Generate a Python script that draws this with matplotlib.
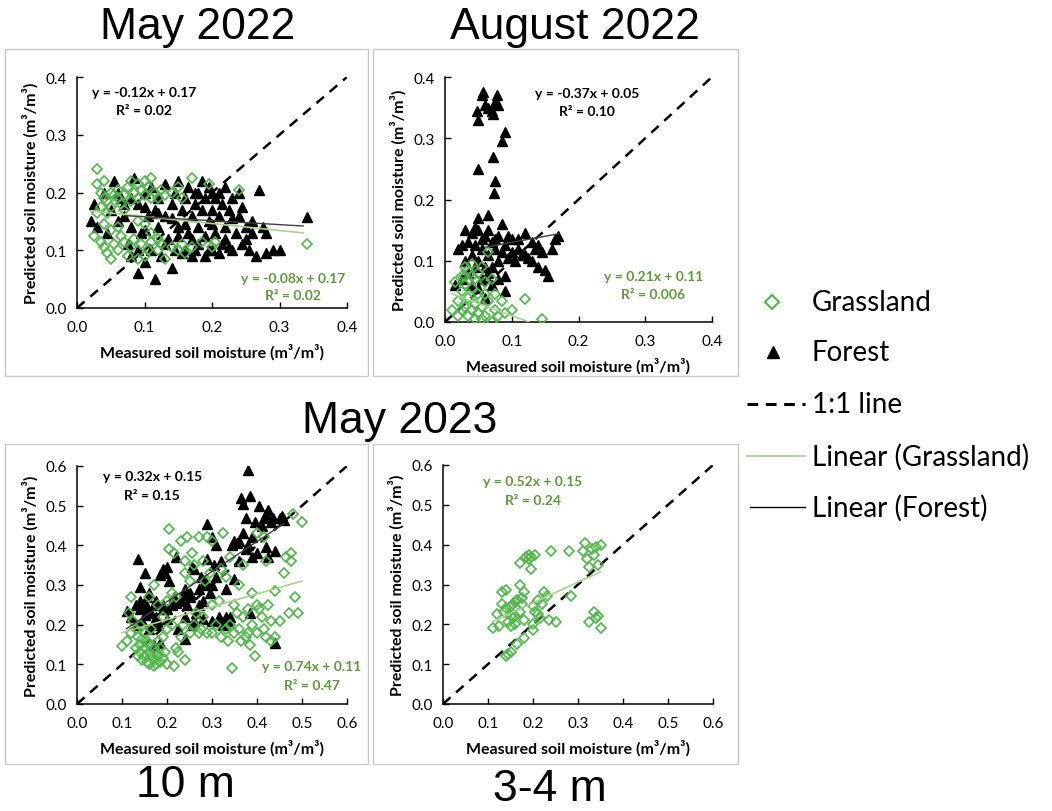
import matplotlib.pyplot as plt
from matplotlib.lines import Line2D
from matplotlib.patches import Rectangle

# ---- data ----
# May 2022 (10 m)
may22_grass_x = [0.03, 0.03, 0.035, 0.04, 0.04, 0.045, 0.05, 0.05, 0.055, 0.06, 0.06, 0.065, 0.07, 0.075, 0.08,
                 0.08, 0.085, 0.09, 0.09, 0.095, 0.10, 0.10, 0.105, 0.11, 0.11, 0.115, 0.12, 0.125, 0.13, 0.14,
                 0.035, 0.045, 0.03, 0.07, 0.17, 0.15, 0.195, 0.24, 0.155,
                 0.04, 0.05, 0.06, 0.10, 0.11, 0.025, 0.09,
                 0.035, 0.04, 0.045, 0.05, 0.055, 0.06, 0.07, 0.075, 0.08, 0.085, 0.09, 0.095, 0.10, 0.105,
                 0.11, 0.12, 0.125, 0.13, 0.14, 0.15, 0.155, 0.16, 0.17, 0.185, 0.20, 0.205, 0.34, 0.12, 0.065]
may22_grass_y = [0.24, 0.215, 0.20, 0.19, 0.22, 0.185, 0.20, 0.175, 0.195, 0.19, 0.205, 0.18, 0.195, 0.21, 0.22,
                 0.185, 0.20, 0.215, 0.19, 0.205, 0.195, 0.22, 0.21, 0.225, 0.19, 0.20, 0.19, 0.205, 0.195, 0.20,
                 0.175, 0.165, 0.165, 0.17, 0.225, 0.21, 0.215, 0.205, 0.19,
                 0.145, 0.135, 0.14, 0.145, 0.13, 0.125, 0.15,
                 0.115, 0.105, 0.095, 0.085, 0.11, 0.10, 0.115, 0.09, 0.105, 0.12, 0.085, 0.11, 0.09, 0.10,
                 0.115, 0.10, 0.11, 0.085, 0.105, 0.10, 0.11, 0.095, 0.105, 0.115, 0.105, 0.115, 0.11, 0.12, 0.125]
may22_forest_x = [0.02, 0.025, 0.03, 0.04, 0.045, 0.05, 0.055, 0.06, 0.065, 0.07, 0.075, 0.08, 0.08, 0.085,
                  0.09, 0.09, 0.095, 0.10, 0.10, 0.105, 0.11, 0.11, 0.115, 0.115, 0.12, 0.12, 0.125, 0.13, 0.13,
                  0.135, 0.14, 0.14, 0.145, 0.145, 0.15, 0.15, 0.155, 0.16, 0.16, 0.165, 0.165, 0.17, 0.17,
                  0.175, 0.175, 0.18, 0.18, 0.185, 0.185, 0.19, 0.19, 0.195, 0.195, 0.20, 0.20, 0.205, 0.205,
                  0.21, 0.21, 0.215, 0.215, 0.22, 0.22, 0.225, 0.23, 0.23, 0.235, 0.24, 0.24, 0.245, 0.25,
                  0.255, 0.26, 0.265, 0.27, 0.275, 0.28, 0.29, 0.30, 0.34, 0.16, 0.17, 0.19, 0.20, 0.21, 0.22,
                  0.13, 0.15, 0.12, 0.14, 0.10, 0.09, 0.18, 0.225, 0.245, 0.26, 0.23, 0.08, 0.06, 0.07, 0.10,
                  0.155, 0.175, 0.195, 0.20, 0.25, 0.28]
may22_forest_y = [0.15, 0.18, 0.14, 0.20, 0.13, 0.17, 0.22, 0.15, 0.19, 0.16, 0.11, 0.09, 0.14, 0.225,
                  0.06, 0.18, 0.13, 0.08, 0.20, 0.16, 0.10, 0.21, 0.05, 0.17, 0.14, 0.19, 0.09, 0.16, 0.215,
                  0.12, 0.07, 0.18, 0.10, 0.20, 0.14, 0.22, 0.17, 0.10, 0.19, 0.13, 0.21, 0.09, 0.16,
                  0.18, 0.20, 0.11, 0.14, 0.17, 0.22, 0.09, 0.19, 0.15, 0.21, 0.10, 0.17, 0.13, 0.19,
                  0.16, 0.20, 0.11, 0.18, 0.14, 0.21, 0.17, 0.10, 0.19, 0.13, 0.16, 0.20, 0.11, 0.14,
                  0.10, 0.13, 0.09, 0.205, 0.14, 0.095, 0.10, 0.10, 0.157, 0.145, 0.12, 0.125, 0.145, 0.095, 0.12,
                  0.11, 0.125, 0.165, 0.155, 0.175, 0.10, 0.20, 0.105, 0.175, 0.15, 0.155, 0.19, 0.20, 0.18, 0.135,
                  0.095, 0.10, 0.10, 0.20, 0.12, 0.13]

# August 2022 (10 m)
aug22_grass_x = [0.01, 0.015, 0.02, 0.02, 0.025, 0.025, 0.03, 0.03, 0.03, 0.035, 0.035, 0.035, 0.04, 0.04,
                 0.04, 0.045, 0.045, 0.045, 0.05, 0.05, 0.05, 0.055, 0.055, 0.06, 0.06, 0.065, 0.065, 0.07,
                 0.07, 0.075, 0.08, 0.085, 0.09, 0.10, 0.12, 0.145, 0.03, 0.025, 0.055, 0.06, 0.04, 0.075]
aug22_grass_y = [0.02, 0.065, 0.035, 0.01, 0.075, 0.05, 0.09, 0.025, 0.06, 0.085, 0.04, 0.01, 0.095, 0.055,
                 0.02, 0.07, 0.03, 0.005, 0.08, 0.045, 0.015, 0.09, 0.025, 0.065, 0.01, 0.115, 0.035, 0.07,
                 0.0, 0.02, 0.01, 0.035, 0.015, 0.02, 0.037, 0.005, 0.075, 0.02, 0.005, 0.045, 0.075, 0.045]
aug22_forest_x = [0.048, 0.05, 0.055, 0.057, 0.06, 0.065, 0.07, 0.072, 0.075, 0.078, 0.08, 0.085, 0.09, 0.072,
                  0.05, 0.075, 0.073, 0.065, 0.05,
                  0.015, 0.02, 0.025, 0.03, 0.035, 0.04, 0.04, 0.045, 0.045, 0.05, 0.05, 0.055, 0.055, 0.06,
                  0.06, 0.065, 0.065, 0.07, 0.07, 0.075, 0.08, 0.08, 0.085, 0.085, 0.09, 0.09, 0.09, 0.095,
                  0.10, 0.10, 0.105, 0.11, 0.115, 0.12, 0.125, 0.13, 0.135, 0.14, 0.14, 0.145, 0.15, 0.155,
                  0.16, 0.165, 0.17, 0.035, 0.04, 0.05, 0.06, 0.03, 0.025, 0.045, 0.055, 0.07, 0.08, 0.065,
                  0.075, 0.095, 0.11, 0.12, 0.13]
aug22_forest_y = [0.345, 0.33, 0.37, 0.375, 0.355, 0.35, 0.345, 0.34, 0.36, 0.37, 0.355, 0.295, 0.31, 0.27,
                  0.25, 0.23, 0.21, 0.175, 0.17,
                  0.06, 0.12, 0.125, 0.15, 0.13, 0.11, 0.145, 0.09, 0.155, 0.10, 0.15, 0.12, 0.07, 0.14,
                  0.04, 0.11, 0.15, 0.09, 0.13, 0.12, 0.10, 0.14, 0.16, 0.115, 0.05, 0.075, 0.125, 0.105,
                  0.115, 0.135, 0.10, 0.12, 0.11, 0.145, 0.105, 0.10, 0.12, 0.09, 0.125, 0.115, 0.085, 0.075,
                  0.12, 0.135, 0.14, 0.08, 0.06, 0.055, 0.09, 0.10, 0.07, 0.125, 0.135, 0.06, 0.07, 0.08,
                  0.135, 0.14, 0.135, 0.11, 0.13]

# May 2023, 10 m
may23_grass_x = [0.10, 0.11, 0.115, 0.12, 0.12, 0.125, 0.13, 0.13, 0.135, 0.135, 0.14, 0.14, 0.14, 0.145,
                 0.145, 0.15, 0.15, 0.15, 0.155, 0.155, 0.16, 0.16, 0.16, 0.165, 0.165, 0.17, 0.17, 0.17,
                 0.175, 0.175, 0.18, 0.18, 0.185, 0.185, 0.19, 0.19, 0.195, 0.20, 0.20, 0.205, 0.205, 0.21,
                 0.215, 0.215, 0.22, 0.225, 0.23, 0.235, 0.24, 0.24, 0.245, 0.25, 0.255, 0.26, 0.265, 0.27,
                 0.275, 0.28, 0.285, 0.29, 0.29, 0.295, 0.30, 0.30, 0.31, 0.315, 0.32, 0.325, 0.33, 0.33,
                 0.335, 0.34, 0.345, 0.35, 0.355, 0.36, 0.365, 0.37, 0.375, 0.38, 0.385, 0.39, 0.39, 0.395,
                 0.40, 0.40, 0.405, 0.41, 0.415, 0.415, 0.42, 0.42, 0.425, 0.43, 0.44, 0.45, 0.46, 0.465,
                 0.47, 0.475, 0.475, 0.48, 0.485, 0.49, 0.50, 0.35, 0.37, 0.38, 0.30, 0.27, 0.26, 0.25, 0.23,
                 0.21, 0.19, 0.18, 0.17, 0.16, 0.20, 0.22, 0.24, 0.28, 0.32, 0.34, 0.36, 0.40, 0.44, 0.43]
may23_grass_y = [0.145, 0.16, 0.23, 0.18, 0.27, 0.21, 0.14, 0.19, 0.17, 0.12, 0.15, 0.13, 0.20, 0.165,
                 0.11, 0.14, 0.18, 0.12, 0.105, 0.16, 0.13, 0.10, 0.15, 0.12, 0.19, 0.095, 0.14, 0.11,
                 0.13, 0.10, 0.12, 0.16, 0.105, 0.14, 0.115, 0.17, 0.13, 0.10, 0.19, 0.39, 0.44, 0.28,
                 0.095, 0.38, 0.14, 0.13, 0.41, 0.20, 0.36, 0.11, 0.42, 0.31, 0.38, 0.35, 0.23, 0.42,
                 0.19, 0.36, 0.31, 0.18, 0.42, 0.33, 0.41, 0.25, 0.20, 0.26, 0.17, 0.43, 0.19, 0.32,
                 0.16, 0.20, 0.09, 0.18, 0.23, 0.30, 0.16, 0.35, 0.17, 0.18, 0.15, 0.28, 0.20, 0.12,
                 0.25, 0.18, 0.24, 0.22, 0.19, 0.42, 0.17, 0.36, 0.25, 0.16, 0.285, 0.21, 0.33, 0.37,
                 0.23, 0.38, 0.36, 0.48, 0.27, 0.23, 0.46, 0.25, 0.22, 0.24, 0.18, 0.18, 0.20, 0.18, 0.17,
                 0.20, 0.22, 0.25, 0.30, 0.27, 0.26, 0.27, 0.33, 0.22, 0.34, 0.37, 0.19, 0.43, 0.17, 0.21]
may23_forest_x = [0.11, 0.12, 0.13, 0.135, 0.14, 0.14, 0.145, 0.15, 0.15, 0.155, 0.16, 0.16, 0.165, 0.17,
                  0.17, 0.175, 0.18, 0.185, 0.185, 0.19, 0.19, 0.195, 0.20, 0.20, 0.205, 0.21, 0.215, 0.22,
                  0.225, 0.23, 0.235, 0.24, 0.24, 0.245, 0.25, 0.255, 0.26, 0.26, 0.265, 0.27, 0.275, 0.28,
                  0.28, 0.285, 0.29, 0.29, 0.295, 0.30, 0.30, 0.305, 0.31, 0.31, 0.315, 0.32, 0.325, 0.33,
                  0.335, 0.34, 0.345, 0.35, 0.355, 0.36, 0.36, 0.365, 0.37, 0.37, 0.375, 0.375, 0.38, 0.38,
                  0.385, 0.385, 0.39, 0.39, 0.395, 0.40, 0.405, 0.41, 0.415, 0.42, 0.42, 0.425, 0.425, 0.43,
                  0.435, 0.44, 0.44, 0.45, 0.455, 0.46, 0.13, 0.15, 0.175, 0.20, 0.22, 0.25, 0.27, 0.30,
                  0.33, 0.35, 0.28, 0.32, 0.19, 0.17, 0.155, 0.14, 0.24, 0.255]
may23_forest_y = [0.235, 0.22, 0.25, 0.365, 0.295, 0.24, 0.21, 0.33, 0.255, 0.27, 0.19, 0.28, 0.23, 0.25,
                  0.15, 0.22, 0.205, 0.155, 0.325, 0.34, 0.24, 0.33, 0.345, 0.215, 0.31, 0.25, 0.27, 0.37,
                  0.19, 0.26, 0.275, 0.165, 0.22, 0.25, 0.28, 0.345, 0.21, 0.34, 0.23, 0.29, 0.32, 0.26,
                  0.215, 0.31, 0.455, 0.365, 0.28, 0.42, 0.21, 0.35, 0.40, 0.32, 0.22, 0.36, 0.20, 0.29,
                  0.21, 0.22, 0.40, 0.315, 0.405, 0.41, 0.36, 0.52, 0.505, 0.43, 0.39, 0.47, 0.59, 0.40,
                  0.525, 0.23, 0.42, 0.37, 0.46, 0.38, 0.50, 0.45, 0.47, 0.395, 0.48, 0.49, 0.37, 0.46,
                  0.47, 0.155, 0.385, 0.47, 0.475, 0.465, 0.20, 0.225, 0.26, 0.24, 0.255, 0.27, 0.25, 0.30,
                  0.22, 0.41, 0.30, 0.21, 0.25, 0.20, 0.245, 0.26, 0.29, 0.20]

# May 2023, 3-4 m (grassland only)
may23_fine_x = [0.11, 0.12, 0.125, 0.13, 0.135, 0.14, 0.14, 0.14, 0.145, 0.145, 0.15, 0.15, 0.15, 0.155,
                0.155, 0.16, 0.16, 0.165, 0.165, 0.17, 0.17, 0.17, 0.175, 0.18, 0.18, 0.18, 0.185, 0.19,
                0.19, 0.195, 0.195, 0.20, 0.20, 0.205, 0.205, 0.21, 0.21, 0.215, 0.22, 0.225, 0.23, 0.235,
                0.24, 0.25, 0.28, 0.285, 0.31, 0.315, 0.32, 0.325, 0.325, 0.33, 0.335, 0.335, 0.34, 0.34,
                0.345, 0.345, 0.35, 0.35, 0.13, 0.16, 0.20, 0.175, 0.15]
may23_fine_y = [0.19, 0.225, 0.195, 0.28, 0.23, 0.285, 0.24, 0.12, 0.125, 0.205, 0.13, 0.245, 0.195, 0.215,
                0.25, 0.255, 0.22, 0.26, 0.15, 0.30, 0.355, 0.23, 0.265, 0.28, 0.21, 0.165, 0.37, 0.365,
                0.375, 0.37, 0.34, 0.245, 0.185, 0.375, 0.23, 0.26, 0.225, 0.215, 0.25, 0.28, 0.27, 0.21,
                0.385, 0.205, 0.385, 0.27, 0.385, 0.405, 0.365, 0.345, 0.205, 0.39, 0.375, 0.23, 0.395, 0.215,
                0.22, 0.35, 0.40, 0.19, 0.25, 0.20, 0.20, 0.25, 0.22]

# trend lines as drawn (x0, y0, x1, y1)
trend_grass = [(0.02, 0.168, 0.335, 0.130), (0.01, 0.046, 0.126, 0.0),
               (0.10, 0.18, 0.50, 0.31), (0.11, 0.207, 0.35, 0.332)]
trend_forest = [(0.07, 0.160, 0.335, 0.142), (0.06, 0.122, 0.17, 0.144),
                (0.11, 0.19, 0.46, 0.455), None]

eq_black = [("y = -0.12x + 0.17", "R² = 0.02"), ("y = -0.37x + 0.05", "R² = 0.10"),
            ("y = 0.32x + 0.15", "R² = 0.15"), None]
eq_green = [("y = -0.08x + 0.17", "R² = 0.02"), ("y = 0.21x + 0.11", "R² = 0.006"),
            ("y = 0.74x + 0.11", "R² = 0.47"), ("y = 0.52x + 0.15", "R² = 0.24")]

GREEN = "#4db848"
GREEN_TXT = "#5b9a3a"
LIGHT_GREEN = "#a9d18e"
FONT = ["Lato", "DejaVu Sans"]
TITLE_FONT = ["Liberation Sans Narrow", "Liberation Sans", "DejaVu Sans"]

fig = plt.figure(figsize=(10.52, 8.12), dpi=100)

W, H = 1052, 812


def px_box(x0, y0, x1, y1):
    return [x0 / W, 1 - y1 / H, (x1 - x0) / W, (y1 - y0) / H]


# panel frames
for (x0, y0, x1, y1) in [(5, 50, 368, 377), (373, 50, 738, 377), (5, 445, 368, 765), (373, 445, 738, 765)]:
    fig.patches.append(Rectangle((x0 / W, 1 - y1 / H), (x1 - x0) / W, (y1 - y0) / H,
                                 transform=fig.transFigure, fill=False, edgecolor="#c8c8c8", lw=1))

axes_px = [(77, 78, 347, 309), (445, 78, 712, 323), (77, 467, 347, 705), (443, 466, 713, 705)]
limits = [0.4, 0.4, 0.6, 0.6]
grass = [(may22_grass_x, may22_grass_y), (aug22_grass_x, aug22_grass_y),
         (may23_grass_x, may23_grass_y), (may23_fine_x, may23_fine_y)]
forest = [(may22_forest_x, may22_forest_y), (aug22_forest_x, aug22_forest_y),
          (may23_forest_x, may23_forest_y), None]
eq_black_pos = [(0.10, 0.374, 0.343), (0.213, 0.374, 0.344), (0.167, 0.574, 0.527), None]
eq_green_pos = [(0.32, 0.052, 0.0225), (0.312, 0.075, 0.046), (0.522, 0.096, 0.048), (0.20, 0.56, 0.513)]

for i in range(4):
    ax = fig.add_axes(px_box(*axes_px[i]))
    lim = limits[i]
    ax.plot([0, lim], [0, lim], color="black", ls=(0, (4, 3)), lw=1.8, zorder=1)
    if forest[i] is not None:
        ax.plot(forest[i][0], forest[i][1], ls="none", marker="^", ms=7.5, color="black", zorder=3)
    ax.plot(grass[i][0], grass[i][1], ls="none", marker="D", ms=5.5, mfc="none", mec=GREEN, mew=1.2, zorder=4)
    tg = trend_grass[i]
    ax.plot([tg[0], tg[2]], [tg[1], tg[3]], color=LIGHT_GREEN, lw=1.2, zorder=5)
    tf = trend_forest[i]
    if tf is not None:
        ax.plot([tf[0], tf[2]], [tf[1], tf[3]], color="#404040", lw=1.0, zorder=5)
    if eq_black[i] is not None:
        bx, by1, by2 = eq_black_pos[i]
        ax.text(bx, by1, eq_black[i][0], ha="center", va="center", fontsize=10, fontweight="bold", family=FONT)
        ax.text(bx, by2, eq_black[i][1], ha="center", va="center", fontsize=10, fontweight="bold", family=FONT)
    gx, gy1, gy2 = eq_green_pos[i]
    ax.text(gx, gy1, eq_green[i][0], ha="center", va="center", fontsize=10, fontweight="bold",
            color=GREEN_TXT, family=FONT)
    ax.text(gx, gy2, eq_green[i][1], ha="center", va="center", fontsize=10, fontweight="bold",
            color=GREEN_TXT, family=FONT)

    ax.set_xlim(0, lim)
    ax.set_ylim(0, lim)
    ticks = [k / 10 for k in range(int(round(lim * 10)) + 1)]
    ax.set_xticks(ticks)
    ax.set_yticks(ticks)
    ax.set_xticklabels([f"{t:.1f}" for t in ticks], family=FONT, fontsize=11)
    ax.set_yticklabels([f"{t:.1f}" for t in ticks], family=FONT, fontsize=11)
    ax.tick_params(direction="in", length=4, width=1)
    ax.tick_params(axis="x", pad=9)
    ax.tick_params(axis="y", pad=7)
    for s in ["top", "right"]:
        ax.spines[s].set_visible(False)
    for s in ["left", "bottom"]:
        ax.spines[s].set_linewidth(1.1)
    ax.set_xlabel("Measured soil moisture (m³/m³)", fontsize=11.5, fontweight="bold", family=FONT, labelpad=6)
    ax.set_ylabel("Predicted soil moisture (m³/m³)", fontsize=11.5, fontweight="bold", family=FONT, labelpad=5)

# titles
fig.text(198 / W, 1 - 27 / H, "May 2022", ha="center", va="center", fontsize=32, family=TITLE_FONT)
fig.text(575 / W, 1 - 27 / H, "August 2022", ha="center", va="center", fontsize=32, family=TITLE_FONT)
fig.text(400 / W, 1 - 422 / H, "May 2023", ha="center", va="center", fontsize=32, family=TITLE_FONT)
fig.text(185 / W, 1 - 786 / H, "10 m", ha="center", va="center", fontsize=32, family=TITLE_FONT)
fig.text(550 / W, 1 - 790 / H, "3-4 m", ha="center", va="center", fontsize=32, family=TITLE_FONT)

# legend
leg_y = [303, 353, 405, 457, 508]
leg_text = ["Grassland", "Forest", "1:1 line", "Linear (Grassland)", "Linear (Forest)"]
fig.lines.append(Line2D([772 / W], [1 - leg_y[0] / H], marker="D", ms=7, mfc="none", mec=GREEN, mew=1.5,
                        transform=fig.transFigure))
fig.lines.append(Line2D([773 / W], [1 - leg_y[1] / H], marker="^", ms=8, color="black",
                        transform=fig.transFigure))
fig.lines.append(Line2D([747 / W, 805 / W], [1 - leg_y[2] / H] * 2, color="black", lw=2.2,
                        ls=(0, (3.5, 2.5)), transform=fig.transFigure))
fig.lines.append(Line2D([747 / W, 805 / W], [1 - leg_y[3] / H] * 2, color=LIGHT_GREEN, lw=1.3,
                        transform=fig.transFigure))
fig.lines.append(Line2D([750 / W, 805 / W], [1 - leg_y[4] / H] * 2, color="black", lw=1.0,
                        transform=fig.transFigure))
for yy, t in zip(leg_y, leg_text):
    fig.text(812 / W, 1 - yy / H, t, ha="left", va="center", fontsize=20, family=FONT)

fig.savefig("out.png", dpi=100)
